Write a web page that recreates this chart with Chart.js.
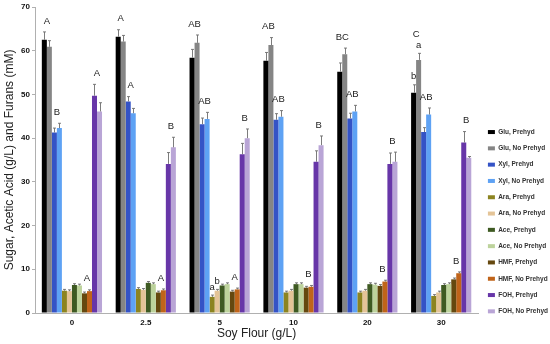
<!DOCTYPE html>
<html>
<head>
<meta charset="utf-8">
<script src="https://cdn.jsdelivr.net/npm/chart.js@4.4.0/dist/chart.umd.min.js"></script>
<style>
  html, body { margin: 0; padding: 0; background: #fff; }
</style>
</head>
<body>
<canvas id="chartSoy" width="550" height="344"></canvas>
<script>
// Soy flour loading (g/L)
const soyFlour = ['0', '2.5', '5', '10', '20', '30'];

// mean values per soy flour level
const gluPrehyd = [62.5, 63.2, 58.4, 57.7, 55.2, 50.4];
const gluNoPrehyd = [60.9, 62.1, 61.8, 61.3, 59.2, 57.9];
const xylPrehyd = [41.3, 48.4, 43.2, 44.2, 44.5, 41.4];
const xylNoPrehyd = [42.3, 45.7, 44.4, 44.9, 46.1, 45.4];
const araPrehyd = [5.1, 5.5, 3.7, 4.7, 4.7, 3.9];
const araNoPrehyd = [5.0, 5.3, 5.1, 5.1, 5.1, 4.7];
const acePrehyd = [6.4, 6.9, 6.3, 6.6, 6.6, 6.4];
const aceNoPrehyd = [6.3, 6.6, 6.6, 6.6, 6.5, 6.6];
const hmfPrehyd = [4.5, 4.7, 4.9, 5.8, 6.2, 7.7];
const hmfNoPrehyd = [5.0, 5.2, 5.4, 6.0, 7.2, 9.1];
const fohPrehyd = [49.7, 34.1, 36.3, 34.6, 34.1, 39.0];
const fohNoPrehyd = [46.1, 37.9, 40.0, 38.4, 34.6, 35.5];

// standard deviations (upper error bars)
const gluPrehydErr = [1.8, 1.6, 1.9, 1.9, 2.0, 1.8];
const gluNoPrehydErr = [1.4, 1.4, 1.8, 1.7, 1.4, 1.5];
const xylPrehydErr = [1.0, 1.1, 1.4, 1.4, 1.2, 1.0];
const xylNoPrehydErr = [1.1, 1.1, 1.5, 1.4, 1.4, 1.5];
const araPrehydErr = [0.3, 0.3, 0.4, 0.3, 0.3, 0.3];
const araNoPrehydErr = [0.3, 0.3, 0.3, 0.3, 0.3, 0.3];
const acePrehydErr = [0.3, 0.3, 0.3, 0.3, 0.3, 0.3];
const aceNoPrehydErr = [0.3, 0.3, 0.3, 0.3, 0.3, 0.3];
const hmfPrehydErr = [0.3, 0.3, 0.3, 0.3, 0.3, 0.3];
const hmfNoPrehydErr = [0.3, 0.3, 0.3, 0.3, 0.3, 0.3];
const fohPrehydErr = [2.6, 2.6, 2.5, 2.5, 2.5, 2.5];
const fohNoPrehydErr = [2.0, 2.3, 2.1, 2.1, 2.2, 0.3];

// significance letters
const gluLetters = ['A', 'A', 'AB', 'AB', 'BC', 'C'];
const xylLetters = ['B', 'A', 'AB', 'AB', 'AB', 'AB'];
const hmfLetters = ['A', 'A', 'A', 'B', 'B', 'B'];
const fohLetters = ['A', 'B', 'B', 'B', 'B', 'B'];
const gluPairLetters = [null, null, null, null, null, ['b', 'a']];
const araPairLetters = [null, null, ['a', 'b'], null, null, null];

const series = [
    { label: 'Glu, Prehyd', color: '#000000', data: gluPrehyd, err: gluPrehydErr },
    { label: 'Glu, No Prehyd', color: '#858585', data: gluNoPrehyd, err: gluNoPrehydErr },
    { label: 'Xyl, Prehyd', color: '#3453c6', data: xylPrehyd, err: xylPrehydErr },
    { label: 'Xyl, No Prehyd', color: '#5ea2f4', data: xylNoPrehyd, err: xylNoPrehydErr },
    { label: 'Ara, Prehyd', color: '#8c8420', data: araPrehyd, err: araPrehydErr },
    { label: 'Ara, No Prehyd', color: '#e4c497', data: araNoPrehyd, err: araNoPrehydErr },
    { label: 'Ace, Prehyd', color: '#3e5a22', data: acePrehyd, err: acePrehydErr },
    { label: 'Ace, No Prehyd', color: '#bdd39c', data: aceNoPrehyd, err: aceNoPrehydErr },
    { label: 'HMF, Prehyd', color: '#65480f', data: hmfPrehyd, err: hmfPrehydErr },
    { label: 'HMF, No Prehyd', color: '#c0641a', data: hmfNoPrehyd, err: hmfNoPrehydErr },
    { label: 'FOH, Prehyd', color: '#6736a8', data: fohPrehyd, err: fohPrehydErr },
    { label: 'FOH, No Prehyd', color: '#b9a5d6', data: fohNoPrehyd, err: fohNoPrehydErr }
];

const fontFamily = '"Liberation Sans", Arial, sans-serif';

// draw upper error bars and the letters above the bars
const errorBarPlugin = {
    id: 'errorBars',
    afterDatasetsDraw(chart) {
        const ctx = chart.ctx;
        const yScale = chart.scales.y;
        ctx.save();
        ctx.lineWidth = 1;
        chart.data.datasets.forEach((ds, i) => {
            const meta = chart.getDatasetMeta(i);
            ctx.strokeStyle = 'rgba(110,110,110,0.9)';
            meta.data.forEach((bar, j) => {
                const top = yScale.getPixelForValue(ds.data[j] + ds.err[j]);
                const x = Math.round(bar.x) + 0.5;
                ctx.beginPath();
                ctx.moveTo(x, bar.y);
                ctx.lineTo(x, top);
                ctx.moveTo(x - 1.5, top);
                ctx.lineTo(x + 1.5, top);
                ctx.stroke();
            });
        });

        const topOf = (i, j) => {
            const ds = chart.data.datasets[i];
            return yScale.getPixelForValue(ds.data[j] + ds.err[j]);
        };

        ctx.fillStyle = '#222';
        ctx.textAlign = 'center';
        ctx.textBaseline = 'middle';
        ctx.font = '9.5px ' + fontFamily;

        function pairLabel(letters, small, a, b) {
            soyFlour.forEach((_, j) => {
                const barA = chart.getDatasetMeta(a).data[j];
                const barB = chart.getDatasetMeta(b).data[j];
                let y = Math.min(topOf(a, j), topOf(b, j)) - 11;
                if (small && small[j]) {
                    const ya = topOf(a, j) - 8;
                    const yb = topOf(b, j) - 8;
                    ctx.fillText(small[j][0], barA.x, ya);
                    ctx.fillText(small[j][1], barB.x, yb);
                    y = Math.min(ya, yb) - 11;
                }
                if (letters && letters[j]) {
                    ctx.fillText(letters[j], (barA.x + barB.x) / 2, y);
                }
            });
        }

        pairLabel(gluLetters, gluPairLetters, 0, 1);
        pairLabel(xylLetters, null, 2, 3);
        pairLabel(null, araPairLetters, 4, 5);
        pairLabel(hmfLetters, null, 8, 9);
        pairLabel(fohLetters, null, 10, 11);
        ctx.restore();
    }
};

const ctx = document.getElementById('chartSoy').getContext('2d');
new Chart(ctx, {
    type: 'bar',
    data: {
        labels: soyFlour,
        datasets: series.map(s => ({
            label: s.label,
            data: s.data,
            err: s.err,
            backgroundColor: s.color,
            borderWidth: 0,
            categoryPercentage: 0.815,
            barPercentage: 1.0
        }))
    },
    options: {
        responsive: false,
        animation: false,
        layout: { padding: { top: 7, right: -8, bottom: 0, left: 0 } },
        plugins: {
            tooltip: { enabled: false },
            legend: {
                position: 'right',
                align: 'start',
                // empty title used only to push the legend items down
                title: { display: true, text: ' ', font: { size: 10 }, padding: { top: 100, bottom: 0 } },
                labels: {
                    boxWidth: 7,
                    boxHeight: 4,
                    padding: 9.8,
                    color: '#333',
                    font: { family: fontFamily, size: 6.5, weight: 'bold' }
                }
            }
        },
        scales: {
            x: {
                grid: { display: false, drawTicks: false },
                border: { display: true, color: '#b0b0b0' },
                ticks: { color: '#111', padding: 5, font: { family: fontFamily, size: 8, weight: 'bold' } },
                title: {
                    display: true,
                    text: 'Soy Flour (g/L)',
                    color: '#222',
                    padding: { top: 0, bottom: 3.5 },
                    font: { family: fontFamily, size: 12 }
                },
                afterFit: s => { s.height = 31; }
            },
            y: {
                min: 0,
                max: 70,
                grid: { display: true, drawOnChartArea: false, tickLength: 3, color: '#b0b0b0' },
                border: { display: true, color: '#b0b0b0' },
                ticks: { stepSize: 10, color: '#111', padding: 2, font: { family: fontFamily, size: 8, weight: 'bold' } },
                title: {
                    display: true,
                    text: 'Sugar, Acetic Acid (g/L) and Furans (mM)',
                    color: '#222',
                    padding: { top: 2.5, bottom: 0 },
                    font: { family: fontFamily, size: 12 }
                },
                afterFit: s => { s.width = 35; }
            }
        }
    },
    plugins: [errorBarPlugin]
});
</script>
</body>
</html>
